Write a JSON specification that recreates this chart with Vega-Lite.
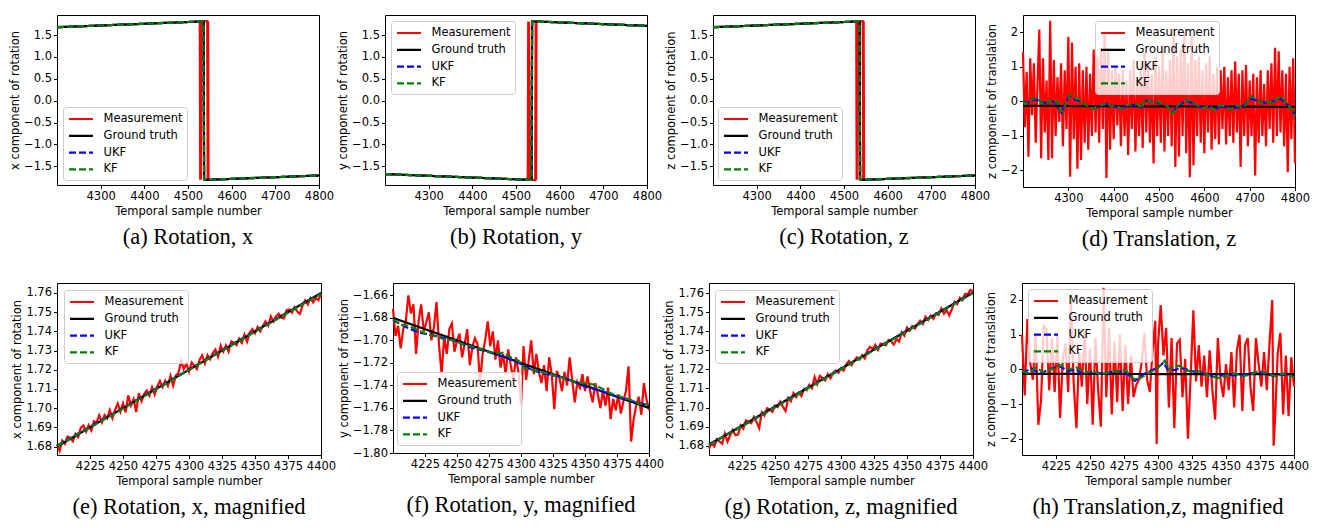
{
"$schema": "https://vega.github.io/schema/vega-lite/v6.json",
"background": "white",
"padding": {"left": 9, "top": 14, "right": 0, "bottom": 0},
"config": {
  "view": {"stroke": "black", "strokeWidth": 1},
  "font": "DejaVu Sans",
  "axis": {"grid": false, "domain": false, "tickColor": "black", "tickSize": 3.5, "tickWidth": 1, "labelFont": "DejaVu Sans", "labelFontSize": 11.5, "labelColor": "black", "labelPadding": 2, "titleFont": "DejaVu Sans", "titleFontSize": 11.5, "titleFontWeight": "normal", "titleColor": "black", "titlePadding": 3, "labelFlush": false, "labelOverlap": false},
  "legend": {"symbolType": "M-1,0L3,0", "symbolStrokeWidth": 2, "symbolSize": 144, "labelFont": "DejaVu Sans", "labelFontSize": 11.5, "labelColor": "black", "rowPadding": 3.8, "padding": 4.5, "strokeColor": "#cccccc", "fillColor": "rgba(255,255,255,0.8)", "cornerRadius": 3, "labelOffset": 21},
  "title": {"font": "Liberation Serif", "fontSize": 22.5, "fontWeight": "normal", "color": "black", "offset": 9, "anchor": "middle"},
  "line": {"strokeWidth": 2.2, "clip": true}
},
"datasets": {
"a": [
{"t":4200,"v":1.680,"s":"M"},{"t":4230,"v":1.692,"s":"M"},{"t":4260,"v":1.704,"s":"M"},{"t":4290,"v":1.716,"s":"M"},{"t":4320,"v":1.728,"s":"M"},{"t":4350,"v":1.740,"s":"M"},{"t":4380,"v":1.752,"s":"M"},{"t":4410,"v":1.764,"s":"M"},{"t":4440,"v":1.776,"s":"M"},{"t":4470,"v":1.788,"s":"M"},{"t":4500,"v":1.800,"s":"M"},{"t":4527,"v":1.811,"s":"M"},{"t":4528,"v":-1.812,"s":"M"},{"t":4529,"v":1.812,"s":"M"},{"t":4530,"v":-1.812,"s":"M"},{"t":4531,"v":1.812,"s":"M"},{"t":4544,"v":1.818,"s":"M"},{"t":4545,"v":-1.812,"s":"M"},{"t":4546,"v":1.818,"s":"M"},{"t":4547,"v":-1.812,"s":"M"},{"t":4570,"v":-1.803,"s":"M"},{"t":4600,"v":-1.791,"s":"M"},{"t":4630,"v":-1.779,"s":"M"},{"t":4660,"v":-1.767,"s":"M"},{"t":4690,"v":-1.755,"s":"M"},{"t":4720,"v":-1.744,"s":"M"},{"t":4750,"v":-1.732,"s":"M"},{"t":4780,"v":-1.720,"s":"M"},{"t":4800,"v":-1.712,"s":"M"},
{"t":4200,"v":1.680,"s":"G"},{"t":4536,"v":1.814,"s":"G"},{"t":4537,"v":-1.815,"s":"G"},{"t":4800,"v":-1.712,"s":"G"},
{"t":4200,"v":1.681,"s":"U"},{"t":4300,"v":1.720,"s":"U"},{"t":4400,"v":1.760,"s":"U"},{"t":4500,"v":1.800,"s":"U"},{"t":4535,"v":1.814,"s":"U"},{"t":4537,"v":-1.814,"s":"U"},{"t":4600,"v":-1.790,"s":"U"},{"t":4700,"v":-1.751,"s":"U"},{"t":4800,"v":-1.712,"s":"U"},
{"t":4200,"v":1.681,"s":"K"},{"t":4300,"v":1.720,"s":"K"},{"t":4400,"v":1.760,"s":"K"},{"t":4500,"v":1.800,"s":"K"},{"t":4535,"v":1.814,"s":"K"},{"t":4537,"v":-1.814,"s":"K"},{"t":4600,"v":-1.790,"s":"K"},{"t":4700,"v":-1.751,"s":"K"},{"t":4800,"v":-1.712,"s":"K"}
],
"b": [
{"t":4200,"v":-1.680,"s":"M"},{"t":4230,"v":-1.692,"s":"M"},{"t":4260,"v":-1.704,"s":"M"},{"t":4290,"v":-1.716,"s":"M"},{"t":4320,"v":-1.728,"s":"M"},{"t":4350,"v":-1.740,"s":"M"},{"t":4380,"v":-1.752,"s":"M"},{"t":4410,"v":-1.764,"s":"M"},{"t":4440,"v":-1.776,"s":"M"},{"t":4470,"v":-1.788,"s":"M"},{"t":4500,"v":-1.800,"s":"M"},{"t":4527,"v":-1.811,"s":"M"},{"t":4528,"v":1.812,"s":"M"},{"t":4529,"v":-1.812,"s":"M"},{"t":4530,"v":1.812,"s":"M"},{"t":4531,"v":-1.812,"s":"M"},{"t":4544,"v":-1.818,"s":"M"},{"t":4545,"v":1.812,"s":"M"},{"t":4546,"v":-1.818,"s":"M"},{"t":4547,"v":1.812,"s":"M"},{"t":4570,"v":1.803,"s":"M"},{"t":4600,"v":1.791,"s":"M"},{"t":4630,"v":1.779,"s":"M"},{"t":4660,"v":1.767,"s":"M"},{"t":4690,"v":1.755,"s":"M"},{"t":4720,"v":1.744,"s":"M"},{"t":4750,"v":1.732,"s":"M"},{"t":4780,"v":1.720,"s":"M"},{"t":4800,"v":1.712,"s":"M"},
{"t":4200,"v":-1.680,"s":"G"},{"t":4536,"v":-1.814,"s":"G"},{"t":4537,"v":1.815,"s":"G"},{"t":4800,"v":1.712,"s":"G"},
{"t":4200,"v":-1.681,"s":"U"},{"t":4300,"v":-1.720,"s":"U"},{"t":4400,"v":-1.760,"s":"U"},{"t":4500,"v":-1.800,"s":"U"},{"t":4535,"v":-1.814,"s":"U"},{"t":4537,"v":1.814,"s":"U"},{"t":4600,"v":1.790,"s":"U"},{"t":4700,"v":1.751,"s":"U"},{"t":4800,"v":1.712,"s":"U"},
{"t":4200,"v":-1.681,"s":"K"},{"t":4300,"v":-1.720,"s":"K"},{"t":4400,"v":-1.760,"s":"K"},{"t":4500,"v":-1.800,"s":"K"},{"t":4535,"v":-1.814,"s":"K"},{"t":4537,"v":1.814,"s":"K"},{"t":4600,"v":1.790,"s":"K"},{"t":4700,"v":1.751,"s":"K"},{"t":4800,"v":1.712,"s":"K"}
],
"c": [
{"t":4200,"v":1.680,"s":"M"},{"t":4230,"v":1.692,"s":"M"},{"t":4260,"v":1.704,"s":"M"},{"t":4290,"v":1.716,"s":"M"},{"t":4320,"v":1.728,"s":"M"},{"t":4350,"v":1.740,"s":"M"},{"t":4380,"v":1.752,"s":"M"},{"t":4410,"v":1.764,"s":"M"},{"t":4440,"v":1.776,"s":"M"},{"t":4470,"v":1.788,"s":"M"},{"t":4500,"v":1.800,"s":"M"},{"t":4528,"v":1.811,"s":"M"},{"t":4529,"v":-1.812,"s":"M"},{"t":4530,"v":1.812,"s":"M"},{"t":4531,"v":-1.812,"s":"M"},{"t":4532,"v":1.812,"s":"M"},{"t":4543,"v":1.818,"s":"M"},{"t":4544,"v":-1.812,"s":"M"},{"t":4545,"v":1.818,"s":"M"},{"t":4546,"v":-1.812,"s":"M"},{"t":4570,"v":-1.803,"s":"M"},{"t":4600,"v":-1.791,"s":"M"},{"t":4630,"v":-1.779,"s":"M"},{"t":4660,"v":-1.767,"s":"M"},{"t":4690,"v":-1.755,"s":"M"},{"t":4720,"v":-1.744,"s":"M"},{"t":4750,"v":-1.732,"s":"M"},{"t":4780,"v":-1.720,"s":"M"},{"t":4800,"v":-1.712,"s":"M"},
{"t":4200,"v":1.680,"s":"G"},{"t":4536,"v":1.814,"s":"G"},{"t":4537,"v":-1.815,"s":"G"},{"t":4800,"v":-1.712,"s":"G"},
{"t":4200,"v":1.681,"s":"U"},{"t":4300,"v":1.720,"s":"U"},{"t":4400,"v":1.760,"s":"U"},{"t":4500,"v":1.800,"s":"U"},{"t":4535,"v":1.814,"s":"U"},{"t":4537,"v":-1.814,"s":"U"},{"t":4600,"v":-1.790,"s":"U"},{"t":4700,"v":-1.751,"s":"U"},{"t":4800,"v":-1.712,"s":"U"},
{"t":4200,"v":1.681,"s":"K"},{"t":4300,"v":1.720,"s":"K"},{"t":4400,"v":1.760,"s":"K"},{"t":4500,"v":1.800,"s":"K"},{"t":4535,"v":1.814,"s":"K"},{"t":4537,"v":-1.814,"s":"K"},{"t":4600,"v":-1.790,"s":"K"},{"t":4700,"v":-1.751,"s":"K"},{"t":4800,"v":-1.712,"s":"K"}
],
"d": [
{"t":4200,"v":1.42,"s":"M"},{"t":4204,"v":-0.75,"s":"M"},{"t":4208,"v":0.85,"s":"M"},{"t":4212,"v":-1.6,"s":"M"},{"t":4216,"v":1.25,"s":"M"},{"t":4220,"v":-0.4,"s":"M"},{"t":4224,"v":1.1,"s":"M"},{"t":4228,"v":-1.2,"s":"M"},{"t":4232,"v":0.5,"s":"M"},{"t":4236,"v":2.08,"s":"M"},
{"t":4240,"v":-1.65,"s":"M"},{"t":4244,"v":1.25,"s":"M"},{"t":4248,"v":-0.9,"s":"M"},{"t":4252,"v":0.6,"s":"M"},{"t":4256,"v":-1.7,"s":"M"},{"t":4260,"v":2.33,"s":"M"},{"t":4264,"v":-1.65,"s":"M"},{"t":4268,"v":1.2,"s":"M"},{"t":4272,"v":-1.0,"s":"M"},{"t":4276,"v":0.7,"s":"M"},
{"t":4280,"v":-0.6,"s":"M"},{"t":4284,"v":1.1,"s":"M"},{"t":4288,"v":-1.3,"s":"M"},{"t":4292,"v":0.9,"s":"M"},{"t":4296,"v":-0.8,"s":"M"},{"t":4300,"v":1.87,"s":"M"},{"t":4304,"v":-2.18,"s":"M"},{"t":4308,"v":1.7,"s":"M"},{"t":4312,"v":-1.1,"s":"M"},{"t":4316,"v":1.0,"s":"M"},
{"t":4320,"v":-1.95,"s":"M"},{"t":4324,"v":1.1,"s":"M"},{"t":4328,"v":-1.7,"s":"M"},{"t":4332,"v":0.9,"s":"M"},{"t":4336,"v":-1.2,"s":"M"},{"t":4340,"v":1.0,"s":"M"},{"t":4344,"v":-1.4,"s":"M"},{"t":4348,"v":0.8,"s":"M"},{"t":4352,"v":-1.0,"s":"M"},{"t":4356,"v":1.5,"s":"M"},
{"t":4360,"v":-0.9,"s":"M"},{"t":4364,"v":1.3,"s":"M"},{"t":4368,"v":-1.2,"s":"M"},{"t":4372,"v":1.55,"s":"M"},{"t":4376,"v":-0.8,"s":"M"},{"t":4380,"v":2.0,"s":"M"},{"t":4384,"v":-2.22,"s":"M"},{"t":4388,"v":1.55,"s":"M"},{"t":4392,"v":-1.4,"s":"M"},{"t":4396,"v":0.9,"s":"M"},
{"t":4400,"v":-1.1,"s":"M"},{"t":4404,"v":1.0,"s":"M"},{"t":4408,"v":-0.7,"s":"M"},{"t":4412,"v":0.8,"s":"M"},{"t":4416,"v":-1.3,"s":"M"},{"t":4420,"v":0.9,"s":"M"},{"t":4424,"v":-1.0,"s":"M"},{"t":4428,"v":0.6,"s":"M"},{"t":4432,"v":-1.55,"s":"M"},{"t":4436,"v":0.9,"s":"M"},
{"t":4440,"v":-0.8,"s":"M"},{"t":4444,"v":1.2,"s":"M"},{"t":4448,"v":-1.45,"s":"M"},{"t":4452,"v":0.7,"s":"M"},{"t":4456,"v":-1.0,"s":"M"},{"t":4460,"v":1.0,"s":"M"},{"t":4464,"v":-1.35,"s":"M"},{"t":4468,"v":1.4,"s":"M"},{"t":4472,"v":-0.9,"s":"M"},{"t":4476,"v":1.1,"s":"M"},
{"t":4480,"v":-1.2,"s":"M"},{"t":4484,"v":0.8,"s":"M"},{"t":4488,"v":-1.8,"s":"M"},{"t":4492,"v":1.3,"s":"M"},{"t":4496,"v":-1.0,"s":"M"},{"t":4500,"v":1.0,"s":"M"},{"t":4504,"v":-1.2,"s":"M"},{"t":4508,"v":1.6,"s":"M"},{"t":4512,"v":-1.45,"s":"M"},{"t":4516,"v":0.9,"s":"M"},
{"t":4520,"v":-1.0,"s":"M"},{"t":4524,"v":1.2,"s":"M"},{"t":4528,"v":-1.3,"s":"M"},{"t":4532,"v":2.1,"s":"M"},{"t":4536,"v":-1.9,"s":"M"},{"t":4540,"v":1.3,"s":"M"},{"t":4544,"v":-1.6,"s":"M"},{"t":4548,"v":1.5,"s":"M"},{"t":4552,"v":-1.0,"s":"M"},{"t":4556,"v":2.0,"s":"M"},
{"t":4560,"v":-1.5,"s":"M"},{"t":4564,"v":1.1,"s":"M"},{"t":4568,"v":-2.2,"s":"M"},{"t":4572,"v":1.9,"s":"M"},{"t":4576,"v":-1.85,"s":"M"},{"t":4580,"v":1.2,"s":"M"},{"t":4584,"v":-1.0,"s":"M"},{"t":4588,"v":1.3,"s":"M"},{"t":4592,"v":-1.2,"s":"M"},{"t":4596,"v":0.9,"s":"M"},
{"t":4600,"v":-1.5,"s":"M"},{"t":4604,"v":1.1,"s":"M"},{"t":4608,"v":-0.9,"s":"M"},{"t":4612,"v":1.3,"s":"M"},{"t":4616,"v":-1.4,"s":"M"},{"t":4620,"v":0.8,"s":"M"},{"t":4624,"v":-1.1,"s":"M"},{"t":4628,"v":1.0,"s":"M"},{"t":4632,"v":-1.25,"s":"M"},{"t":4636,"v":0.9,"s":"M"},
{"t":4640,"v":-0.8,"s":"M"},{"t":4644,"v":1.0,"s":"M"},{"t":4648,"v":-1.25,"s":"M"},{"t":4652,"v":0.7,"s":"M"},{"t":4656,"v":-1.0,"s":"M"},{"t":4660,"v":0.9,"s":"M"},{"t":4664,"v":-1.2,"s":"M"},{"t":4668,"v":1.15,"s":"M"},{"t":4672,"v":-0.9,"s":"M"},{"t":4676,"v":0.8,"s":"M"},
{"t":4680,"v":-1.9,"s":"M"},{"t":4684,"v":0.9,"s":"M"},{"t":4688,"v":-1.0,"s":"M"},{"t":4692,"v":1.05,"s":"M"},{"t":4696,"v":-1.3,"s":"M"},{"t":4700,"v":0.6,"s":"M"},{"t":4704,"v":-1.0,"s":"M"},{"t":4708,"v":0.8,"s":"M"},{"t":4712,"v":-2.15,"s":"M"},{"t":4716,"v":0.7,"s":"M"},
{"t":4720,"v":-1.2,"s":"M"},{"t":4724,"v":0.9,"s":"M"},{"t":4728,"v":-1.0,"s":"M"},{"t":4732,"v":0.5,"s":"M"},{"t":4736,"v":-1.3,"s":"M"},{"t":4740,"v":0.9,"s":"M"},{"t":4744,"v":-0.8,"s":"M"},{"t":4748,"v":1.1,"s":"M"},{"t":4752,"v":-1.2,"s":"M"},{"t":4756,"v":1.55,"s":"M"},
{"t":4760,"v":-1.0,"s":"M"},{"t":4764,"v":1.45,"s":"M"},{"t":4768,"v":-0.9,"s":"M"},{"t":4772,"v":0.9,"s":"M"},{"t":4776,"v":-1.3,"s":"M"},{"t":4780,"v":0.8,"s":"M"},{"t":4784,"v":-2.05,"s":"M"},{"t":4788,"v":1.0,"s":"M"},{"t":4792,"v":-1.1,"s":"M"},{"t":4796,"v":1.25,"s":"M"},{"t":4800,"v":-1.8,"s":"M"},
{"t":4200,"v":-0.13,"s":"G"},{"t":4800,"v":-0.16,"s":"G"},
{"t":4200,"v":0.0,"s":"U"},{"t":4210,"v":-0.05,"s":"U"},{"t":4220,"v":0.03,"s":"U"},{"t":4230,"v":0.05,"s":"U"},{"t":4240,"v":-0.03,"s":"U"},{"t":4250,"v":-0.05,"s":"U"},{"t":4260,"v":0.0,"s":"U"},{"t":4270,"v":-0.02,"s":"U"},{"t":4280,"v":-0.25,"s":"U"},{"t":4285,"v":-0.33,"s":"U"},{"t":4292,"v":-0.1,"s":"U"},{"t":4300,"v":0.12,"s":"U"},{"t":4305,"v":0.15,"s":"U"},{"t":4315,"v":0.05,"s":"U"},{"t":4325,"v":0.0,"s":"U"},{"t":4340,"v":-0.12,"s":"U"},{"t":4355,"v":-0.2,"s":"U"},{"t":4370,"v":-0.15,"s":"U"},{"t":4385,"v":-0.08,"s":"U"},{"t":4400,"v":-0.15,"s":"U"},{"t":4415,"v":-0.2,"s":"U"},{"t":4430,"v":-0.12,"s":"U"},{"t":4445,"v":-0.1,"s":"U"},{"t":4460,"v":-0.18,"s":"U"},{"t":4470,"v":0.02,"s":"U"},{"t":4480,"v":0.0,"s":"U"},{"t":4495,"v":-0.02,"s":"U"},{"t":4505,"v":-0.08,"s":"U"},{"t":4520,"v":-0.15,"s":"U"},{"t":4530,"v":-0.32,"s":"U"},{"t":4540,"v":-0.15,"s":"U"},{"t":4550,"v":-0.05,"s":"U"},{"t":4565,"v":0.0,"s":"U"},{"t":4580,"v":-0.1,"s":"U"},{"t":4595,"v":-0.18,"s":"U"},{"t":4610,"v":-0.15,"s":"U"},{"t":4625,"v":-0.22,"s":"U"},{"t":4640,"v":-0.12,"s":"U"},{"t":4655,"v":-0.2,"s":"U"},{"t":4670,"v":-0.18,"s":"U"},{"t":4685,"v":-0.15,"s":"U"},{"t":4700,"v":0.08,"s":"U"},{"t":4710,"v":0.05,"s":"U"},{"t":4725,"v":-0.02,"s":"U"},{"t":4740,"v":-0.05,"s":"U"},{"t":4755,"v":0.02,"s":"U"},{"t":4768,"v":0.08,"s":"U"},{"t":4780,"v":-0.05,"s":"U"},{"t":4790,"v":-0.18,"s":"U"},{"t":4800,"v":-0.4,"s":"U"},
{"t":4200,"v":0.02,"s":"K"},{"t":4205,"v":-0.08,"s":"K"},{"t":4212,"v":-0.02,"s":"K"},{"t":4222,"v":0.08,"s":"K"},{"t":4232,"v":0.1,"s":"K"},{"t":4240,"v":-0.05,"s":"K"},{"t":4250,"v":-0.08,"s":"K"},{"t":4258,"v":0.02,"s":"K"},{"t":4268,"v":-0.05,"s":"K"},{"t":4276,"v":0.0,"s":"K"},{"t":4282,"v":-0.28,"s":"K"},{"t":4288,"v":-0.3,"s":"K"},{"t":4295,"v":-0.05,"s":"K"},{"t":4303,"v":0.18,"s":"K"},{"t":4308,"v":0.2,"s":"K"},{"t":4316,"v":0.08,"s":"K"},{"t":4326,"v":0.05,"s":"K"},{"t":4335,"v":-0.08,"s":"K"},{"t":4345,"v":-0.15,"s":"K"},{"t":4355,"v":-0.22,"s":"K"},{"t":4365,"v":-0.12,"s":"K"},{"t":4375,"v":-0.1,"s":"K"},{"t":4385,"v":-0.05,"s":"K"},{"t":4395,"v":-0.15,"s":"K"},{"t":4405,"v":-0.12,"s":"K"},{"t":4418,"v":-0.22,"s":"K"},{"t":4428,"v":-0.1,"s":"K"},{"t":4440,"v":-0.12,"s":"K"},{"t":4452,"v":-0.08,"s":"K"},{"t":4462,"v":-0.2,"s":"K"},{"t":4468,"v":0.05,"s":"K"},{"t":4478,"v":0.02,"s":"K"},{"t":4488,"v":-0.05,"s":"K"},{"t":4498,"v":0.0,"s":"K"},{"t":4508,"v":-0.1,"s":"K"},{"t":4518,"v":-0.12,"s":"K"},{"t":4527,"v":-0.35,"s":"K"},{"t":4533,"v":-0.3,"s":"K"},{"t":4542,"v":-0.1,"s":"K"},{"t":4552,"v":0.0,"s":"K"},{"t":4562,"v":0.05,"s":"K"},{"t":4572,"v":-0.02,"s":"K"},{"t":4585,"v":-0.12,"s":"K"},{"t":4598,"v":-0.2,"s":"K"},{"t":4610,"v":-0.12,"s":"K"},{"t":4622,"v":-0.25,"s":"K"},{"t":4635,"v":-0.1,"s":"K"},{"t":4648,"v":-0.18,"s":"K"},{"t":4660,"v":-0.22,"s":"K"},{"t":4672,"v":-0.12,"s":"K"},{"t":4688,"v":-0.18,"s":"K"},{"t":4698,"v":0.1,"s":"K"},{"t":4704,"v":0.15,"s":"K"},{"t":4714,"v":0.08,"s":"K"},{"t":4726,"v":-0.05,"s":"K"},{"t":4738,"v":0.02,"s":"K"},{"t":4750,"v":-0.05,"s":"K"},{"t":4762,"v":0.1,"s":"K"},{"t":4770,"v":0.15,"s":"K"},{"t":4778,"v":0.0,"s":"K"},{"t":4786,"v":-0.12,"s":"K"},{"t":4794,"v":-0.25,"s":"K"},{"t":4800,"v":-0.45,"s":"K"}
],
"e": [
{"t":4200,"v":1.6810,"s":"M"},{"t":4202,"v":1.6778,"s":"M"},{"t":4204,"v":1.6831,"s":"M"},{"t":4206,"v":1.6814,"s":"M"},{"t":4208,"v":1.6852,"s":"M"},{"t":4210,"v":1.6845,"s":"M"},{"t":4212,"v":1.6828,"s":"M"},{"t":4214,"v":1.6866,"s":"M"},{"t":4216,"v":1.6849,"s":"M"},{"t":4218,"v":1.6897,"s":"M"},
{"t":4220,"v":1.6910,"s":"M"},{"t":4222,"v":1.6878,"s":"M"},{"t":4224,"v":1.6911,"s":"M"},{"t":4226,"v":1.6884,"s":"M"},{"t":4228,"v":1.6932,"s":"M"},{"t":4230,"v":1.6925,"s":"M"},{"t":4232,"v":1.6963,"s":"M"},{"t":4234,"v":1.6926,"s":"M"},{"t":4236,"v":1.6964,"s":"M"},{"t":4238,"v":1.6947,"s":"M"},
{"t":4240,"v":1.6990,"s":"M"},{"t":4242,"v":1.6948,"s":"M"},{"t":4244,"v":1.6991,"s":"M"},{"t":4246,"v":1.7024,"s":"M"},{"t":4248,"v":1.6982,"s":"M"},{"t":4250,"v":1.7025,"s":"M"},{"t":4252,"v":1.6978,"s":"M"},{"t":4254,"v":1.7066,"s":"M"},{"t":4256,"v":1.7014,"s":"M"},{"t":4258,"v":1.7047,"s":"M"},
{"t":4260,"v":1.6980,"s":"M"},{"t":4262,"v":1.7078,"s":"M"},{"t":4264,"v":1.7036,"s":"M"},{"t":4266,"v":1.7074,"s":"M"},{"t":4268,"v":1.7092,"s":"M"},{"t":4270,"v":1.7065,"s":"M"},{"t":4272,"v":1.7108,"s":"M"},{"t":4274,"v":1.7071,"s":"M"},{"t":4276,"v":1.7114,"s":"M"},{"t":4278,"v":1.7142,"s":"M"},
{"t":4280,"v":1.7110,"s":"M"},{"t":4282,"v":1.7143,"s":"M"},{"t":4284,"v":1.7116,"s":"M"},{"t":4286,"v":1.7169,"s":"M"},{"t":4288,"v":1.7117,"s":"M"},{"t":4290,"v":1.7170,"s":"M"},{"t":4292,"v":1.7183,"s":"M"},{"t":4294,"v":1.7246,"s":"M"},{"t":4296,"v":1.7204,"s":"M"},{"t":4298,"v":1.7232,"s":"M"},
{"t":4300,"v":1.7190,"s":"M"},{"t":4302,"v":1.7238,"s":"M"},{"t":4304,"v":1.7221,"s":"M"},{"t":4306,"v":1.7204,"s":"M"},{"t":4308,"v":1.7252,"s":"M"},{"t":4310,"v":1.7275,"s":"M"},{"t":4312,"v":1.7233,"s":"M"},{"t":4314,"v":1.7276,"s":"M"},{"t":4316,"v":1.7254,"s":"M"},{"t":4318,"v":1.7287,"s":"M"},
{"t":4320,"v":1.7305,"s":"M"},{"t":4322,"v":1.7268,"s":"M"},{"t":4324,"v":1.7326,"s":"M"},{"t":4326,"v":1.7294,"s":"M"},{"t":4328,"v":1.7327,"s":"M"},{"t":4330,"v":1.7295,"s":"M"},{"t":4332,"v":1.7348,"s":"M"},{"t":4334,"v":1.7341,"s":"M"},{"t":4336,"v":1.7329,"s":"M"},{"t":4338,"v":1.7362,"s":"M"},
{"t":4340,"v":1.7340,"s":"M"},{"t":4342,"v":1.7383,"s":"M"},{"t":4344,"v":1.7346,"s":"M"},{"t":4346,"v":1.7394,"s":"M"},{"t":4348,"v":1.7412,"s":"M"},{"t":4350,"v":1.7390,"s":"M"},{"t":4352,"v":1.7423,"s":"M"},{"t":4354,"v":1.7401,"s":"M"},{"t":4356,"v":1.7429,"s":"M"},{"t":4358,"v":1.7452,"s":"M"},
{"t":4360,"v":1.7430,"s":"M"},{"t":4362,"v":1.7478,"s":"M"},{"t":4364,"v":1.7451,"s":"M"},{"t":4366,"v":1.7479,"s":"M"},{"t":4368,"v":1.7492,"s":"M"},{"t":4370,"v":1.7470,"s":"M"},{"t":4372,"v":1.7468,"s":"M"},{"t":4374,"v":1.7511,"s":"M"},{"t":4376,"v":1.7514,"s":"M"},{"t":4378,"v":1.7497,"s":"M"},
{"t":4380,"v":1.7525,"s":"M"},{"t":4382,"v":1.7503,"s":"M"},{"t":4384,"v":1.7491,"s":"M"},{"t":4386,"v":1.7534,"s":"M"},{"t":4388,"v":1.7562,"s":"M"},{"t":4390,"v":1.7540,"s":"M"},{"t":4392,"v":1.7573,"s":"M"},{"t":4394,"v":1.7551,"s":"M"},{"t":4396,"v":1.7574,"s":"M"},{"t":4398,"v":1.7562,"s":"M"},{"t":4400,"v":1.7595,"s":"M"},
{"t":4200,"v":1.6800,"s":"G"},{"t":4400,"v":1.7600,"s":"G"},
{"t":4200,"v":1.6805,"s":"U"},{"t":4240,"v":1.6962,"s":"U"},{"t":4280,"v":1.7121,"s":"U"},{"t":4320,"v":1.7282,"s":"U"},{"t":4360,"v":1.7441,"s":"U"},{"t":4400,"v":1.7598,"s":"U"},
{"t":4200,"v":1.6803,"s":"K"},{"t":4240,"v":1.6958,"s":"K"},{"t":4280,"v":1.7118,"s":"K"},{"t":4320,"v":1.7280,"s":"K"},{"t":4360,"v":1.7438,"s":"K"},{"t":4400,"v":1.7596,"s":"K"}
],
"f": [
{"t":4200,"v":-1.672,"s":"M"},{"t":4202,"v":-1.696,"s":"M"},{"t":4204,"v":-1.687,"s":"M"},{"t":4206,"v":-1.707,"s":"M"},{"t":4208,"v":-1.690,"s":"M"},{"t":4210,"v":-1.683,"s":"M"},{"t":4212,"v":-1.660,"s":"M"},{"t":4214,"v":-1.676,"s":"M"},{"t":4216,"v":-1.668,"s":"M"},{"t":4218,"v":-1.712,"s":"M"},
{"t":4220,"v":-1.683,"s":"M"},{"t":4222,"v":-1.668,"s":"M"},{"t":4224,"v":-1.692,"s":"M"},{"t":4226,"v":-1.684,"s":"M"},{"t":4228,"v":-1.675,"s":"M"},{"t":4230,"v":-1.700,"s":"M"},{"t":4232,"v":-1.688,"s":"M"},{"t":4234,"v":-1.666,"s":"M"},{"t":4236,"v":-1.705,"s":"M"},{"t":4238,"v":-1.730,"s":"M"},
{"t":4240,"v":-1.697,"s":"M"},{"t":4242,"v":-1.712,"s":"M"},{"t":4244,"v":-1.690,"s":"M"},{"t":4246,"v":-1.685,"s":"M"},{"t":4248,"v":-1.710,"s":"M"},{"t":4250,"v":-1.700,"s":"M"},{"t":4252,"v":-1.694,"s":"M"},{"t":4254,"v":-1.715,"s":"M"},{"t":4256,"v":-1.703,"s":"M"},{"t":4258,"v":-1.690,"s":"M"},
{"t":4260,"v":-1.722,"s":"M"},{"t":4262,"v":-1.706,"s":"M"},{"t":4264,"v":-1.698,"s":"M"},{"t":4266,"v":-1.703,"s":"M"},{"t":4268,"v":-1.738,"s":"M"},{"t":4270,"v":-1.712,"s":"M"},{"t":4272,"v":-1.700,"s":"M"},{"t":4274,"v":-1.683,"s":"M"},{"t":4276,"v":-1.705,"s":"M"},{"t":4278,"v":-1.692,"s":"M"},
{"t":4280,"v":-1.717,"s":"M"},{"t":4282,"v":-1.700,"s":"M"},{"t":4284,"v":-1.724,"s":"M"},{"t":4286,"v":-1.712,"s":"M"},{"t":4288,"v":-1.730,"s":"M"},{"t":4290,"v":-1.708,"s":"M"},{"t":4292,"v":-1.722,"s":"M"},{"t":4294,"v":-1.735,"s":"M"},{"t":4296,"v":-1.715,"s":"M"},{"t":4298,"v":-1.728,"s":"M"},
{"t":4300,"v":-1.757,"s":"M"},{"t":4302,"v":-1.705,"s":"M"},{"t":4304,"v":-1.735,"s":"M"},{"t":4306,"v":-1.718,"s":"M"},{"t":4308,"v":-1.700,"s":"M"},{"t":4310,"v":-1.730,"s":"M"},{"t":4312,"v":-1.712,"s":"M"},{"t":4314,"v":-1.728,"s":"M"},{"t":4316,"v":-1.738,"s":"M"},{"t":4318,"v":-1.722,"s":"M"},
{"t":4320,"v":-1.745,"s":"M"},{"t":4322,"v":-1.715,"s":"M"},{"t":4324,"v":-1.730,"s":"M"},{"t":4326,"v":-1.761,"s":"M"},{"t":4328,"v":-1.727,"s":"M"},{"t":4330,"v":-1.733,"s":"M"},{"t":4332,"v":-1.745,"s":"M"},{"t":4334,"v":-1.728,"s":"M"},{"t":4336,"v":-1.740,"s":"M"},{"t":4338,"v":-1.715,"s":"M"},
{"t":4340,"v":-1.735,"s":"M"},{"t":4342,"v":-1.755,"s":"M"},{"t":4344,"v":-1.737,"s":"M"},{"t":4346,"v":-1.742,"s":"M"},{"t":4348,"v":-1.730,"s":"M"},{"t":4350,"v":-1.745,"s":"M"},{"t":4352,"v":-1.732,"s":"M"},{"t":4354,"v":-1.745,"s":"M"},{"t":4356,"v":-1.755,"s":"M"},{"t":4358,"v":-1.738,"s":"M"},
{"t":4360,"v":-1.748,"s":"M"},{"t":4362,"v":-1.760,"s":"M"},{"t":4364,"v":-1.745,"s":"M"},{"t":4366,"v":-1.758,"s":"M"},{"t":4368,"v":-1.742,"s":"M"},{"t":4370,"v":-1.770,"s":"M"},{"t":4372,"v":-1.752,"s":"M"},{"t":4374,"v":-1.762,"s":"M"},{"t":4376,"v":-1.748,"s":"M"},{"t":4378,"v":-1.765,"s":"M"},
{"t":4380,"v":-1.754,"s":"M"},{"t":4382,"v":-1.745,"s":"M"},{"t":4384,"v":-1.723,"s":"M"},{"t":4386,"v":-1.790,"s":"M"},{"t":4388,"v":-1.770,"s":"M"},{"t":4390,"v":-1.758,"s":"M"},{"t":4392,"v":-1.750,"s":"M"},{"t":4394,"v":-1.766,"s":"M"},{"t":4396,"v":-1.738,"s":"M"},{"t":4398,"v":-1.752,"s":"M"},{"t":4400,"v":-1.762,"s":"M"},
{"t":4200,"v":-1.680,"s":"G"},{"t":4400,"v":-1.760,"s":"G"},
{"t":4200,"v":-1.682,"s":"U"},{"t":4210,"v":-1.688,"s":"U"},{"t":4220,"v":-1.693,"s":"U"},{"t":4230,"v":-1.695,"s":"U"},{"t":4240,"v":-1.698,"s":"U"},{"t":4250,"v":-1.701,"s":"U"},{"t":4260,"v":-1.706,"s":"U"},{"t":4270,"v":-1.709,"s":"U"},{"t":4280,"v":-1.712,"s":"U"},{"t":4290,"v":-1.716,"s":"U"},{"t":4300,"v":-1.721,"s":"U"},{"t":4310,"v":-1.727,"s":"U"},{"t":4320,"v":-1.730,"s":"U"},{"t":4330,"v":-1.732,"s":"U"},{"t":4340,"v":-1.736,"s":"U"},{"t":4350,"v":-1.741,"s":"U"},{"t":4360,"v":-1.744,"s":"U"},{"t":4370,"v":-1.748,"s":"U"},{"t":4380,"v":-1.752,"s":"U"},{"t":4390,"v":-1.755,"s":"U"},{"t":4400,"v":-1.758,"s":"U"},
{"t":4200,"v":-1.681,"s":"K"},{"t":4206,"v":-1.686,"s":"K"},{"t":4212,"v":-1.687,"s":"K"},{"t":4218,"v":-1.690,"s":"K"},{"t":4225,"v":-1.694,"s":"K"},{"t":4232,"v":-1.696,"s":"K"},{"t":4240,"v":-1.699,"s":"K"},{"t":4248,"v":-1.700,"s":"K"},{"t":4256,"v":-1.704,"s":"K"},{"t":4264,"v":-1.706,"s":"K"},{"t":4272,"v":-1.709,"s":"K"},{"t":4278,"v":-1.711,"s":"K"},{"t":4286,"v":-1.711,"s":"K"},{"t":4292,"v":-1.715,"s":"K"},{"t":4298,"v":-1.718,"s":"K"},{"t":4302,"v":-1.724,"s":"K"},{"t":4308,"v":-1.726,"s":"K"},{"t":4316,"v":-1.728,"s":"K"},{"t":4324,"v":-1.730,"s":"K"},{"t":4332,"v":-1.733,"s":"K"},{"t":4340,"v":-1.736,"s":"K"},{"t":4348,"v":-1.738,"s":"K"},{"t":4356,"v":-1.739,"s":"K"},{"t":4362,"v":-1.742,"s":"K"},{"t":4370,"v":-1.747,"s":"K"},{"t":4378,"v":-1.750,"s":"K"},{"t":4386,"v":-1.753,"s":"K"},{"t":4392,"v":-1.756,"s":"K"},{"t":4400,"v":-1.757,"s":"K"}
],
"g": [
{"t":4200,"v":1.6785,"s":"M"},{"t":4202,"v":1.6813,"s":"M"},{"t":4204,"v":1.6796,"s":"M"},{"t":4206,"v":1.6834,"s":"M"},{"t":4208,"v":1.6822,"s":"M"},{"t":4210,"v":1.6810,"s":"M"},{"t":4212,"v":1.6863,"s":"M"},{"t":4214,"v":1.6821,"s":"M"},{"t":4216,"v":1.6854,"s":"M"},{"t":4218,"v":1.6882,"s":"M"},
{"t":4220,"v":1.6855,"s":"M"},{"t":4222,"v":1.6858,"s":"M"},{"t":4224,"v":1.6906,"s":"M"},{"t":4226,"v":1.6889,"s":"M"},{"t":4228,"v":1.6932,"s":"M"},{"t":4230,"v":1.6925,"s":"M"},{"t":4232,"v":1.6918,"s":"M"},{"t":4234,"v":1.6951,"s":"M"},{"t":4236,"v":1.6924,"s":"M"},{"t":4238,"v":1.6892,"s":"M"},
{"t":4240,"v":1.6975,"s":"M"},{"t":4242,"v":1.6958,"s":"M"},{"t":4244,"v":1.6996,"s":"M"},{"t":4246,"v":1.6989,"s":"M"},{"t":4248,"v":1.6977,"s":"M"},{"t":4250,"v":1.7010,"s":"M"},{"t":4252,"v":1.7003,"s":"M"},{"t":4254,"v":1.7031,"s":"M"},{"t":4256,"v":1.7004,"s":"M"},{"t":4258,"v":1.6982,"s":"M"},
{"t":4260,"v":1.7050,"s":"M"},{"t":4262,"v":1.7033,"s":"M"},{"t":4264,"v":1.7076,"s":"M"},{"t":4266,"v":1.7054,"s":"M"},{"t":4268,"v":1.7077,"s":"M"},{"t":4270,"v":1.7060,"s":"M"},{"t":4272,"v":1.7098,"s":"M"},{"t":4274,"v":1.7091,"s":"M"},{"t":4276,"v":1.7119,"s":"M"},{"t":4278,"v":1.7102,"s":"M"},
{"t":4280,"v":1.7160,"s":"M"},{"t":4282,"v":1.7123,"s":"M"},{"t":4284,"v":1.7166,"s":"M"},{"t":4286,"v":1.7154,"s":"M"},{"t":4288,"v":1.7142,"s":"M"},{"t":4290,"v":1.7175,"s":"M"},{"t":4292,"v":1.7153,"s":"M"},{"t":4294,"v":1.7181,"s":"M"},{"t":4296,"v":1.7194,"s":"M"},{"t":4298,"v":1.7182,"s":"M"},
{"t":4300,"v":1.7205,"s":"M"},{"t":4302,"v":1.7193,"s":"M"},{"t":4304,"v":1.7226,"s":"M"},{"t":4306,"v":1.7244,"s":"M"},{"t":4308,"v":1.7222,"s":"M"},{"t":4310,"v":1.7245,"s":"M"},{"t":4312,"v":1.7263,"s":"M"},{"t":4314,"v":1.7251,"s":"M"},{"t":4316,"v":1.7274,"s":"M"},{"t":4318,"v":1.7257,"s":"M"},
{"t":4320,"v":1.7300,"s":"M"},{"t":4322,"v":1.7318,"s":"M"},{"t":4324,"v":1.7306,"s":"M"},{"t":4326,"v":1.7329,"s":"M"},{"t":4328,"v":1.7302,"s":"M"},{"t":4330,"v":1.7335,"s":"M"},{"t":4332,"v":1.7333,"s":"M"},{"t":4334,"v":1.7326,"s":"M"},{"t":4336,"v":1.7354,"s":"M"},{"t":4338,"v":1.7347,"s":"M"},
{"t":4340,"v":1.7330,"s":"M"},{"t":4342,"v":1.7358,"s":"M"},{"t":4344,"v":1.7346,"s":"M"},{"t":4346,"v":1.7394,"s":"M"},{"t":4348,"v":1.7377,"s":"M"},{"t":4350,"v":1.7420,"s":"M"},{"t":4352,"v":1.7403,"s":"M"},{"t":4354,"v":1.7426,"s":"M"},{"t":4356,"v":1.7414,"s":"M"},{"t":4358,"v":1.7437,"s":"M"},
{"t":4360,"v":1.7455,"s":"M"},{"t":4362,"v":1.7438,"s":"M"},{"t":4364,"v":1.7476,"s":"M"},{"t":4366,"v":1.7459,"s":"M"},{"t":4368,"v":1.7482,"s":"M"},{"t":4370,"v":1.7465,"s":"M"},{"t":4372,"v":1.7493,"s":"M"},{"t":4374,"v":1.7486,"s":"M"},{"t":4376,"v":1.7519,"s":"M"},{"t":4378,"v":1.7492,"s":"M"},
{"t":4380,"v":1.7510,"s":"M"},{"t":4382,"v":1.7483,"s":"M"},{"t":4384,"v":1.7516,"s":"M"},{"t":4386,"v":1.7554,"s":"M"},{"t":4388,"v":1.7542,"s":"M"},{"t":4390,"v":1.7575,"s":"M"},{"t":4392,"v":1.7563,"s":"M"},{"t":4394,"v":1.7596,"s":"M"},{"t":4396,"v":1.7594,"s":"M"},{"t":4398,"v":1.7617,"s":"M"},{"t":4400,"v":1.7610,"s":"M"},
{"t":4200,"v":1.6805,"s":"G"},{"t":4400,"v":1.7602,"s":"G"},
{"t":4200,"v":1.6806,"s":"U"},{"t":4240,"v":1.6962,"s":"U"},{"t":4280,"v":1.7124,"s":"U"},{"t":4320,"v":1.7284,"s":"U"},{"t":4360,"v":1.7442,"s":"U"},{"t":4400,"v":1.7602,"s":"U"},
{"t":4200,"v":1.6804,"s":"K"},{"t":4240,"v":1.6960,"s":"K"},{"t":4280,"v":1.7121,"s":"K"},{"t":4320,"v":1.7281,"s":"K"},{"t":4360,"v":1.7440,"s":"K"},{"t":4400,"v":1.7600,"s":"K"}
],
"h": [
{"t":4200,"v":1.0,"s":"M"},{"t":4202,"v":-0.75,"s":"M"},{"t":4204,"v":1.45,"s":"M"},{"t":4206,"v":0.2,"s":"M"},{"t":4208,"v":-0.3,"s":"M"},{"t":4210,"v":1.0,"s":"M"},{"t":4212,"v":-1.6,"s":"M"},{"t":4214,"v":-0.9,"s":"M"},{"t":4216,"v":1.25,"s":"M"},{"t":4218,"v":1.15,"s":"M"},
{"t":4220,"v":-0.6,"s":"M"},{"t":4222,"v":0.9,"s":"M"},{"t":4224,"v":-0.65,"s":"M"},{"t":4226,"v":1.0,"s":"M"},{"t":4228,"v":-1.4,"s":"M"},{"t":4230,"v":0.3,"s":"M"},{"t":4232,"v":0.75,"s":"M"},{"t":4234,"v":-0.65,"s":"M"},{"t":4236,"v":2.0,"s":"M"},{"t":4238,"v":-0.4,"s":"M"},
{"t":4240,"v":-1.7,"s":"M"},{"t":4242,"v":0.5,"s":"M"},{"t":4244,"v":-0.5,"s":"M"},{"t":4246,"v":1.1,"s":"M"},{"t":4248,"v":-1.0,"s":"M"},{"t":4250,"v":0.6,"s":"M"},{"t":4252,"v":-1.6,"s":"M"},{"t":4254,"v":0.9,"s":"M"},{"t":4256,"v":-0.6,"s":"M"},{"t":4258,"v":-1.65,"s":"M"},
{"t":4260,"v":2.35,"s":"M"},{"t":4262,"v":-0.8,"s":"M"},{"t":4264,"v":1.2,"s":"M"},{"t":4266,"v":-1.3,"s":"M"},{"t":4268,"v":0.8,"s":"M"},{"t":4270,"v":-0.95,"s":"M"},{"t":4272,"v":1.0,"s":"M"},{"t":4274,"v":-1.2,"s":"M"},{"t":4276,"v":0.7,"s":"M"},{"t":4278,"v":-1.0,"s":"M"},
{"t":4280,"v":0.4,"s":"M"},{"t":4282,"v":-0.8,"s":"M"},{"t":4284,"v":-0.45,"s":"M"},{"t":4286,"v":-0.3,"s":"M"},{"t":4288,"v":0.2,"s":"M"},{"t":4290,"v":1.05,"s":"M"},{"t":4292,"v":-0.3,"s":"M"},{"t":4294,"v":-0.65,"s":"M"},{"t":4296,"v":0.55,"s":"M"},{"t":4298,"v":1.4,"s":"M"},{"t":4299,"v":-2.15,"s":"M"},
{"t":4300,"v":0.7,"s":"M"},{"t":4302,"v":1.85,"s":"M"},{"t":4304,"v":0.4,"s":"M"},{"t":4306,"v":1.2,"s":"M"},{"t":4308,"v":-1.1,"s":"M"},{"t":4310,"v":0.9,"s":"M"},{"t":4312,"v":-1.7,"s":"M"},{"t":4314,"v":0.75,"s":"M"},{"t":4316,"v":0.85,"s":"M"},{"t":4318,"v":-0.8,"s":"M"},
{"t":4320,"v":0.3,"s":"M"},{"t":4322,"v":-2.0,"s":"M"},{"t":4324,"v":-0.2,"s":"M"},{"t":4326,"v":1.7,"s":"M"},{"t":4328,"v":-0.35,"s":"M"},{"t":4330,"v":0.7,"s":"M"},{"t":4332,"v":-0.5,"s":"M"},{"t":4334,"v":0.4,"s":"M"},{"t":4336,"v":-0.8,"s":"M"},{"t":4338,"v":0.55,"s":"M"},
{"t":4340,"v":-0.6,"s":"M"},{"t":4342,"v":-1.45,"s":"M"},{"t":4344,"v":0.9,"s":"M"},{"t":4346,"v":-0.3,"s":"M"},{"t":4348,"v":-0.8,"s":"M"},{"t":4350,"v":0.15,"s":"M"},{"t":4352,"v":-0.6,"s":"M"},{"t":4354,"v":0.5,"s":"M"},{"t":4356,"v":-1.1,"s":"M"},{"t":4358,"v":0.55,"s":"M"},
{"t":4360,"v":1.0,"s":"M"},{"t":4362,"v":-1.2,"s":"M"},{"t":4364,"v":0.7,"s":"M"},{"t":4366,"v":0.9,"s":"M"},{"t":4368,"v":-0.5,"s":"M"},{"t":4370,"v":-1.2,"s":"M"},{"t":4372,"v":0.9,"s":"M"},{"t":4374,"v":0.15,"s":"M"},{"t":4376,"v":-0.5,"s":"M"},{"t":4378,"v":0.5,"s":"M"},
{"t":4380,"v":-0.6,"s":"M"},{"t":4382,"v":0.75,"s":"M"},{"t":4384,"v":2.0,"s":"M"},{"t":4385,"v":-2.2,"s":"M"},{"t":4386,"v":-1.5,"s":"M"},{"t":4388,"v":0.45,"s":"M"},{"t":4390,"v":1.05,"s":"M"},{"t":4392,"v":-1.3,"s":"M"},{"t":4394,"v":0.4,"s":"M"},{"t":4396,"v":-1.35,"s":"M"},{"t":4398,"v":0.35,"s":"M"},{"t":4400,"v":-0.5,"s":"M"},
{"t":4200,"v":-0.13,"s":"G"},{"t":4400,"v":-0.14,"s":"G"},
{"t":4200,"v":-0.1,"s":"U"},{"t":4207,"v":0.02,"s":"U"},{"t":4213,"v":-0.12,"s":"U"},{"t":4220,"v":0.0,"s":"U"},{"t":4227,"v":0.1,"s":"U"},{"t":4234,"v":-0.05,"s":"U"},{"t":4240,"v":0.0,"s":"U"},{"t":4244,"v":-0.12,"s":"U"},{"t":4251,"v":-0.08,"s":"U"},{"t":4260,"v":-0.12,"s":"U"},{"t":4269,"v":-0.05,"s":"U"},{"t":4276,"v":-0.08,"s":"U"},{"t":4283,"v":-0.33,"s":"U"},{"t":4289,"v":-0.15,"s":"U"},{"t":4297,"v":0.0,"s":"U"},{"t":4302,"v":0.12,"s":"U"},{"t":4304,"v":0.2,"s":"U"},{"t":4307,"v":0.0,"s":"U"},{"t":4313,"v":-0.02,"s":"U"},{"t":4316,"v":0.05,"s":"U"},{"t":4325,"v":-0.05,"s":"U"},{"t":4335,"v":-0.12,"s":"U"},{"t":4341,"v":-0.22,"s":"U"},{"t":4350,"v":-0.15,"s":"U"},{"t":4358,"v":-0.18,"s":"U"},{"t":4367,"v":-0.12,"s":"U"},{"t":4374,"v":-0.08,"s":"U"},{"t":4384,"v":-0.18,"s":"U"},{"t":4394,"v":-0.15,"s":"U"},{"t":4400,"v":-0.2,"s":"U"},
{"t":4200,"v":-0.05,"s":"K"},{"t":4205,"v":-0.12,"s":"K"},{"t":4210,"v":0.05,"s":"K"},{"t":4216,"v":-0.08,"s":"K"},{"t":4222,"v":0.02,"s":"K"},{"t":4228,"v":0.12,"s":"K"},{"t":4234,"v":0.0,"s":"K"},{"t":4240,"v":0.05,"s":"K"},{"t":4246,"v":-0.1,"s":"K"},{"t":4252,"v":-0.05,"s":"K"},{"t":4258,"v":-0.15,"s":"K"},{"t":4264,"v":-0.08,"s":"K"},{"t":4270,"v":-0.05,"s":"K"},{"t":4276,"v":-0.02,"s":"K"},{"t":4281,"v":-0.25,"s":"K"},{"t":4285,"v":-0.3,"s":"K"},{"t":4290,"v":-0.18,"s":"K"},{"t":4296,"v":-0.05,"s":"K"},{"t":4300,"v":0.05,"s":"K"},{"t":4305,"v":0.25,"s":"K"},{"t":4308,"v":0.0,"s":"K"},{"t":4312,"v":0.1,"s":"K"},{"t":4316,"v":0.1,"s":"K"},{"t":4320,"v":-0.02,"s":"K"},{"t":4326,"v":-0.08,"s":"K"},{"t":4332,"v":-0.05,"s":"K"},{"t":4338,"v":-0.2,"s":"K"},{"t":4344,"v":-0.25,"s":"K"},{"t":4350,"v":-0.18,"s":"K"},{"t":4356,"v":-0.12,"s":"K"},{"t":4362,"v":-0.2,"s":"K"},{"t":4368,"v":-0.15,"s":"K"},{"t":4374,"v":-0.05,"s":"K"},{"t":4380,"v":-0.1,"s":"K"},{"t":4386,"v":-0.2,"s":"K"},{"t":4392,"v":-0.12,"s":"K"},{"t":4400,"v":-0.22,"s":"K"}
]
},
"resolve": {"scale": {"color": "independent", "strokeDash": "independent", "x": "independent", "y": "independent"}, "legend": {"color": "independent", "strokeDash": "independent"}},
"spacing": 31,
"vconcat": [
{
"spacing": 2,
"resolve": {"scale": {"color": "independent", "strokeDash": "independent", "x": "independent", "y": "independent"}, "legend": {"color": "independent", "strokeDash": "independent"}},
"hconcat": [
{"width": 262, "height": 170, "data": {"name": "a"}, "title": {"text": "(a) Rotation, x", "orient": "bottom"}, "mark": {"type": "line"},
 "encoding": {
  "x": {"field": "t", "type": "quantitative", "scale": {"domain": [4200, 4800], "nice": false, "zero": false}, "axis": {"values": [4300,4400,4500,4600,4700,4800], "title": "Temporal sample number", "format": "d"}},
  "y": {"field": "v", "type": "quantitative", "scale": {"domain": [-1.93, 1.96], "nice": false, "zero": false}, "axis": {"values": [-1.5,-1,-0.5,0,0.5,1,1.5], "format": ".1f", "title": "x component of rotation"}},
  "color": {"field": "s", "type": "nominal", "scale": {"domain": ["M","G","U","K"], "range": ["#ff0000","#000000","#0000ff","#008000"]}, "legend": {"orient": "none", "legendX": 6, "legendY": 92, "title": null, "labelExpr": "datum.label == 'M' ? 'Measurement' : datum.label == 'G' ? 'Ground truth' : datum.label == 'U' ? 'UKF' : 'KF'"}},
  "strokeDash": {"field": "s", "type": "nominal", "scale": {"domain": ["M","G","U","K"], "range": [[1,0],[1,0],[7,3],[7,3]]}, "legend": {"orient": "none", "legendX": 6, "legendY": 92, "title": null, "labelExpr": "datum.label == 'M' ? 'Measurement' : datum.label == 'G' ? 'Ground truth' : datum.label == 'U' ? 'UKF' : 'KF'"}}
 }},
{"width": 262, "height": 170, "data": {"name": "b"}, "title": {"text": "(b) Rotation, y", "orient": "bottom"}, "mark": {"type": "line"},
 "encoding": {
  "x": {"field": "t", "type": "quantitative", "scale": {"domain": [4200, 4800], "nice": false, "zero": false}, "axis": {"values": [4300,4400,4500,4600,4700,4800], "title": "Temporal sample number", "format": "d"}},
  "y": {"field": "v", "type": "quantitative", "scale": {"domain": [-1.93, 1.96], "nice": false, "zero": false}, "axis": {"values": [-1.5,-1,-0.5,0,0.5,1,1.5], "format": ".1f", "title": "y component of rotation"}},
  "color": {"field": "s", "type": "nominal", "scale": {"domain": ["M","G","U","K"], "range": ["#ff0000","#000000","#0000ff","#008000"]}, "legend": {"orient": "none", "legendX": 6, "legendY": 6, "title": null, "labelExpr": "datum.label == 'M' ? 'Measurement' : datum.label == 'G' ? 'Ground truth' : datum.label == 'U' ? 'UKF' : 'KF'"}},
  "strokeDash": {"field": "s", "type": "nominal", "scale": {"domain": ["M","G","U","K"], "range": [[1,0],[1,0],[7,3],[7,3]]}, "legend": {"orient": "none", "legendX": 6, "legendY": 6, "title": null, "labelExpr": "datum.label == 'M' ? 'Measurement' : datum.label == 'G' ? 'Ground truth' : datum.label == 'U' ? 'UKF' : 'KF'"}}
 }},
{
"spacing": -5,
"resolve": {"scale": {"color": "independent", "strokeDash": "independent", "x": "independent", "y": "independent"}, "legend": {"color": "independent", "strokeDash": "independent"}},
"hconcat": [
{"width": 262, "height": 170, "data": {"name": "c"}, "title": {"text": "(c) Rotation, z", "orient": "bottom"}, "mark": {"type": "line"},
 "encoding": {
  "x": {"field": "t", "type": "quantitative", "scale": {"domain": [4200, 4800], "nice": false, "zero": false}, "axis": {"values": [4300,4400,4500,4600,4700,4800], "title": "Temporal sample number", "format": "d"}},
  "y": {"field": "v", "type": "quantitative", "scale": {"domain": [-1.93, 1.96], "nice": false, "zero": false}, "axis": {"values": [-1.5,-1,-0.5,0,0.5,1,1.5], "format": ".1f", "title": "z component of rotation"}},
  "color": {"field": "s", "type": "nominal", "scale": {"domain": ["M","G","U","K"], "range": ["#ff0000","#000000","#0000ff","#008000"]}, "legend": {"orient": "none", "legendX": 5, "legendY": 92, "title": null, "labelExpr": "datum.label == 'M' ? 'Measurement' : datum.label == 'G' ? 'Ground truth' : datum.label == 'U' ? 'UKF' : 'KF'"}},
  "strokeDash": {"field": "s", "type": "nominal", "scale": {"domain": ["M","G","U","K"], "range": [[1,0],[1,0],[7,3],[7,3]]}, "legend": {"orient": "none", "legendX": 5, "legendY": 92, "title": null, "labelExpr": "datum.label == 'M' ? 'Measurement' : datum.label == 'G' ? 'Ground truth' : datum.label == 'U' ? 'UKF' : 'KF'"}}
 }},
{"width": 272, "height": 172, "data": {"name": "d"}, "title": {"text": "(d) Translation, z", "orient": "bottom"}, "mark": {"type": "line"},
 "encoding": {
  "x": {"field": "t", "type": "quantitative", "scale": {"domain": [4200, 4800], "nice": false, "zero": false}, "axis": {"values": [4300,4400,4500,4600,4700,4800], "title": "Temporal sample number", "format": "d"}},
  "y": {"field": "v", "type": "quantitative", "scale": {"domain": [-2.48, 2.5], "nice": false, "zero": false}, "axis": {"values": [-2,-1,0,1,2], "format": "d", "title": "z component of translation"}},
  "color": {"field": "s", "type": "nominal", "scale": {"domain": ["M","G","U","K"], "range": ["#ff0000","#000000","#0000ff","#008000"]}, "legend": {"orient": "none", "legendX": 72, "legendY": 6, "title": null, "labelExpr": "datum.label == 'M' ? 'Measurement' : datum.label == 'G' ? 'Ground truth' : datum.label == 'U' ? 'UKF' : 'KF'"}},
  "strokeDash": {"field": "s", "type": "nominal", "scale": {"domain": ["M","G","U","K"], "range": [[1,0],[1,0],[7,3],[7,3]]}, "legend": {"orient": "none", "legendX": 72, "legendY": 6, "title": null, "labelExpr": "datum.label == 'M' ? 'Measurement' : datum.label == 'G' ? 'Ground truth' : datum.label == 'U' ? 'UKF' : 'KF'"}}
 }}
]
}
]
},
{
"spacing": 0,
"resolve": {"scale": {"color": "independent", "strokeDash": "independent", "x": "independent", "y": "independent"}, "legend": {"color": "independent", "strokeDash": "independent"}},
"hconcat": [
{"width": 264, "height": 172, "data": {"name": "e"}, "title": {"text": "(e) Rotation, x, magnified", "orient": "bottom"}, "mark": {"type": "line"},
 "encoding": {
  "x": {"field": "t", "type": "quantitative", "scale": {"domain": [4200, 4400], "nice": false, "zero": false}, "axis": {"values": [4225,4250,4275,4300,4325,4350,4375,4400], "title": "Temporal sample number", "format": "d"}},
  "y": {"field": "v", "type": "quantitative", "scale": {"domain": [1.6756, 1.7652], "nice": false, "zero": false}, "axis": {"values": [1.68,1.69,1.70,1.71,1.72,1.73,1.74,1.75,1.76], "format": ".2f", "title": "x component of rotation"}},
  "color": {"field": "s", "type": "nominal", "scale": {"domain": ["M","G","U","K"], "range": ["#ff0000","#000000","#0000ff","#008000"]}, "legend": {"orient": "none", "legendX": 7, "legendY": 7, "title": null, "labelExpr": "datum.label == 'M' ? 'Measurement' : datum.label == 'G' ? 'Ground truth' : datum.label == 'U' ? 'UKF' : 'KF'"}},
  "strokeDash": {"field": "s", "type": "nominal", "scale": {"domain": ["M","G","U","K"], "range": [[1,0],[1,0],[7,3],[7,3]]}, "legend": {"orient": "none", "legendX": 7, "legendY": 7, "title": null, "labelExpr": "datum.label == 'M' ? 'Measurement' : datum.label == 'G' ? 'Ground truth' : datum.label == 'U' ? 'UKF' : 'KF'"}}
 }},
{
"spacing": -2,
"resolve": {"scale": {"color": "independent", "strokeDash": "independent", "x": "independent", "y": "independent"}, "legend": {"color": "independent", "strokeDash": "independent"}},
"hconcat": [
{"width": 256, "height": 170, "data": {"name": "f"}, "title": {"text": "(f) Rotation, y, magnified", "orient": "bottom"}, "mark": {"type": "line"},
 "encoding": {
  "x": {"field": "t", "type": "quantitative", "scale": {"domain": [4200, 4400], "nice": false, "zero": false}, "axis": {"values": [4225,4250,4275,4300,4325,4350,4375,4400], "title": "Temporal sample number", "format": "d"}},
  "y": {"field": "v", "type": "quantitative", "scale": {"domain": [-1.8, -1.649], "nice": false, "zero": false}, "axis": {"values": [-1.80,-1.78,-1.76,-1.74,-1.72,-1.70,-1.68,-1.66], "format": ".2f", "title": "y component of rotation"}},
  "color": {"field": "s", "type": "nominal", "scale": {"domain": ["M","G","U","K"], "range": ["#ff0000","#000000","#0000ff","#008000"]}, "legend": {"orient": "none", "legendX": 4, "legendY": 89, "title": null, "labelExpr": "datum.label == 'M' ? 'Measurement' : datum.label == 'G' ? 'Ground truth' : datum.label == 'U' ? 'UKF' : 'KF'"}},
  "strokeDash": {"field": "s", "type": "nominal", "scale": {"domain": ["M","G","U","K"], "range": [[1,0],[1,0],[7,3],[7,3]]}, "legend": {"orient": "none", "legendX": 4, "legendY": 89, "title": null, "labelExpr": "datum.label == 'M' ? 'Measurement' : datum.label == 'G' ? 'Ground truth' : datum.label == 'U' ? 'UKF' : 'KF'"}}
 }},
{
"spacing": -4,
"resolve": {"scale": {"color": "independent", "strokeDash": "independent", "x": "independent", "y": "independent"}, "legend": {"color": "independent", "strokeDash": "independent"}},
"hconcat": [
{"width": 264, "height": 172, "data": {"name": "g"}, "title": {"text": "(g) Rotation, z, magnified", "orient": "bottom"}, "mark": {"type": "line"},
 "encoding": {
  "x": {"field": "t", "type": "quantitative", "scale": {"domain": [4200, 4400], "nice": false, "zero": false}, "axis": {"values": [4225,4250,4275,4300,4325,4350,4375,4400], "title": "Temporal sample number", "format": "d"}},
  "y": {"field": "v", "type": "quantitative", "scale": {"domain": [1.6751, 1.7653], "nice": false, "zero": false}, "axis": {"values": [1.68,1.69,1.70,1.71,1.72,1.73,1.74,1.75,1.76], "format": ".2f", "title": "z component of rotation"}},
  "color": {"field": "s", "type": "nominal", "scale": {"domain": ["M","G","U","K"], "range": ["#ff0000","#000000","#0000ff","#008000"]}, "legend": {"orient": "none", "legendX": 6, "legendY": 7, "title": null, "labelExpr": "datum.label == 'M' ? 'Measurement' : datum.label == 'G' ? 'Ground truth' : datum.label == 'U' ? 'UKF' : 'KF'"}},
  "strokeDash": {"field": "s", "type": "nominal", "scale": {"domain": ["M","G","U","K"], "range": [[1,0],[1,0],[7,3],[7,3]]}, "legend": {"orient": "none", "legendX": 6, "legendY": 7, "title": null, "labelExpr": "datum.label == 'M' ? 'Measurement' : datum.label == 'G' ? 'Ground truth' : datum.label == 'U' ? 'UKF' : 'KF'"}}
 }},
{"width": 272, "height": 172, "data": {"name": "h"}, "title": {"text": "(h) Translation,z, magnified", "orient": "bottom"}, "mark": {"type": "line"},
 "encoding": {
  "x": {"field": "t", "type": "quantitative", "scale": {"domain": [4200, 4400], "nice": false, "zero": false}, "axis": {"values": [4225,4250,4275,4300,4325,4350,4375,4400], "title": "Temporal sample number", "format": "d"}},
  "y": {"field": "v", "type": "quantitative", "scale": {"domain": [-2.47, 2.49], "nice": false, "zero": false}, "axis": {"values": [-2,-1,0,1,2], "format": "d", "title": "z component of translation"}},
  "color": {"field": "s", "type": "nominal", "scale": {"domain": ["M","G","U","K"], "range": ["#ff0000","#000000","#0000ff","#008000"]}, "legend": {"orient": "none", "legendX": 6, "legendY": 6, "title": null, "labelExpr": "datum.label == 'M' ? 'Measurement' : datum.label == 'G' ? 'Ground truth' : datum.label == 'U' ? 'UKF' : 'KF'"}},
  "strokeDash": {"field": "s", "type": "nominal", "scale": {"domain": ["M","G","U","K"], "range": [[1,0],[1,0],[7,3],[7,3]]}, "legend": {"orient": "none", "legendX": 6, "legendY": 6, "title": null, "labelExpr": "datum.label == 'M' ? 'Measurement' : datum.label == 'G' ? 'Ground truth' : datum.label == 'U' ? 'UKF' : 'KF'"}}
 }}
]
}
]
}
]
}
]
}
